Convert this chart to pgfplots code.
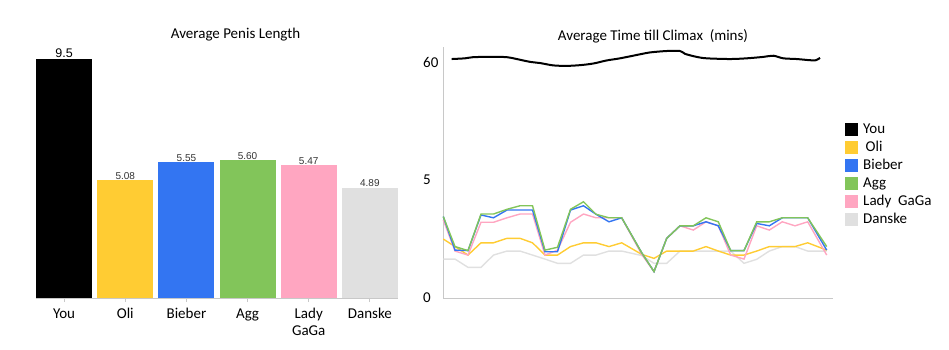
\documentclass[border=0pt]{standalone}
\usepackage{fontspec}
\setmainfont{Carlito}
\newfontfamily\arialfont{Liberation Sans}
\usepackage{pgfplots}
\usepackage{pgfplotstable}
\pgfplotsset{compat=1.18}
\definecolor{cyou}{RGB}{0,0,0}
\definecolor{coli}{RGB}{255,204,51}
\definecolor{cbieber}{RGB}{51,117,242}
\definecolor{cagg}{RGB}{130,197,90}
\definecolor{clady}{RGB}{255,166,193}
\definecolor{cdanske}{RGB}{224,224,224}
\definecolor{axisgray}{RGB}{200,200,200}

\pgfplotstableread{
x     green blue pink yellow grey
443.3 3.45 3.45 3.31 2.50 1.65
455.0 2.18 2.03 1.99 2.18 1.65
468.0 2.01 2.01 1.82 1.82 1.30
481.0 3.56 3.52 3.21 2.34 1.30
493.5 3.56 3.40 3.21 2.34 1.82
507.0 3.76 3.73 3.40 2.53 1.99
520.0 3.91 3.73 3.56 2.53 1.99
532.5 3.91 3.73 3.56 2.34 1.82
545.0 2.03 1.96 1.82 1.82 1.65
557.5 2.15 1.96 2.03 1.82 1.47
570.5 3.76 3.73 3.21 2.18 1.47
583.5 4.08 3.91 3.56 2.34 1.82
596.0 3.55 3.55 3.40 2.34 1.82
609.0 3.40 3.23 3.40 2.18 1.99
621.7 3.40 3.40 3.40 2.34 1.99
641.7 1.92 1.92 1.85 1.85 1.80
654.0 1.12 1.12 1.12 1.68 1.47
666.7 2.53 2.53 2.53 1.99 1.47
680.0 3.06 3.06 3.06 1.99 1.99
693.3 3.06 3.06 2.88 1.99 1.99
706.0 3.40 3.23 3.23 2.18 1.99
718.3 3.23 3.06 3.06 1.99 1.99
730.7 2.01 2.01 1.82 1.82 1.99
744.0 2.01 2.01 1.65 1.82 1.47
756.7 3.23 3.16 3.06 1.99 1.64
769.3 3.23 3.06 2.88 2.18 1.99
782.3 3.40 3.40 3.23 2.18 2.18
795.0 3.40 3.40 3.06 2.18 2.18
807.7 3.40 3.40 3.23 2.34 1.99
826.7 2.18 2.03 1.82 2.03 1.99
}\linedata

\pgfplotstableread{
x     y
451.7 60.13
465.0 60.16
473.3 60.21
490.0 60.22
506.7 60.21
516.7 60.13
530.0 60.01
540.0 59.96
553.3 59.86
566.7 59.84
580.0 59.87
593.3 59.94
606.7 60.07
620.0 60.16
640.0 60.33
650.0 60.41
666.7 60.47
680.0 60.47
685.0 60.35
696.7 60.22
706.7 60.16
730.0 60.13
746.7 60.16
763.3 60.22
773.3 60.27
783.3 60.16
796.7 60.13
810.0 60.08
816.0 60.08
820.0 60.18
}\youdata

\begin{document}
\begin{tikzpicture}[x=1pt,y=1pt]
\path[use as bounding box] (0,0) rectangle (949,349);

% ---------------- left: bar chart ----------------
\begin{axis}[
  at={(36pt,51pt)}, anchor=south west, scale only axis,
  width=362pt, height=251pt,
  xmin=-0.46, xmax=5.46, ymin=2.06, ymax=8.5,
  axis x line*=bottom, axis y line=none,
  x axis line style={-, draw=axisgray, line width=0.8pt},
  xtick={0,1,2,3,4,5},
  xticklabels={You,Oli,Bieber,Agg,{Lady\\GaGa},Danske},
  xticklabel style={align=center, font=\fontsize{15}{16.5}\selectfont, anchor=north, yshift=-3pt},
  xtick style={draw=axisgray, line width=0.8pt},
  major tick length=4pt, tick align=outside,
  point meta=explicit symbolic,
  every axis plot/.append style={ybar, bar width=56pt, bar shift=0pt, draw=none},
  nodes near coords,
  every node near coord/.append style={anchor=south, inner sep=0pt, yshift=0.5pt, font=\arialfont\fontsize{10}{12}\selectfont, text=black!80},
]
\addplot[fill=cyou, every node near coord/.append style={font=\arialfont\fontsize{12.5}{14}\selectfont, text=black}] coordinates {(0,8.2) [9.5]};
\addplot[fill=coli] coordinates {(1,5.08) [5.08]};
\addplot[fill=cbieber] coordinates {(2,5.55) [5.55]};
\addplot[fill=cagg] coordinates {(3,5.60) [5.60]};
\addplot[fill=clady] coordinates {(4,5.47) [5.47]};
\addplot[fill=cdanske] coordinates {(5,4.89) [4.89]};
\end{axis}

% ---------------- right: line chart ----------------
\begin{axis}[
  at={(443pt,51pt)}, anchor=south west, scale only axis,
  width=390pt, height=251pt,
  xmin=443, xmax=833, ymin=0, ymax=10.64,
  axis x line*=bottom, axis y line*=left,
  axis line style={-, draw=axisgray, line width=0.8pt},
  xtick=\empty,
  ytick={0,5,10}, yticklabels={0,5,60},
  ytick style={draw=none},
  yticklabel style={anchor=west, inner sep=0pt, xshift=-20pt, font=\fontsize{15}{18}\selectfont},
  /pgf/number format/assume math mode=true,
  clip=false,
  legend image code/.code={\fill[#1] (0pt,-6pt) rectangle (12pt,6pt);},
  legend cell align=left,
  legend style={draw=none, fill=none, at={(1.031,0.705)}, anchor=north west, inner sep=0pt,
    font=\fontsize{15}{17}\selectfont, row sep=2pt,
    nodes={inner xsep=5.5pt, inner ysep=1pt, text height=11pt, text depth=3pt}},
]
\addlegendimage{cyou}\addlegendentry{You}
\addlegendimage{coli}\addlegendentry{\,Oli}
\addlegendimage{cbieber}\addlegendentry{Bieber}
\addlegendimage{cagg}\addlegendentry{Agg}
\addlegendimage{clady}\addlegendentry{Lady~~GaGa}
\addlegendimage{cdanske}\addlegendentry{Danske}

\addplot[cdanske, line width=1.4pt, forget plot] table[x=x, y=grey] {\linedata};
\addplot[coli, line width=1.4pt, forget plot] table[x=x, y=yellow] {\linedata};
\addplot[clady, line width=1.4pt, forget plot] table[x=x, y=pink] {\linedata};
\addplot[cbieber, line width=1.4pt, forget plot] table[x=x, y=blue] {\linedata};
\addplot[cagg, line width=1.4pt, forget plot] table[x=x, y=green] {\linedata};
\addplot[cyou, line width=2pt, smooth, forget plot, y filter/.expression={y-50}] table[x=x, y=y] {\youdata};
\end{axis}

\node[anchor=base, font=\fontsize{15}{17}\selectfont] at (235.5,310.7) {Average Penis Length};
\node[anchor=base, font=\fontsize{15}{17}\selectfont] at (653,308.3) {Average Time till Climax~~(mins)};
\end{tikzpicture}
\end{document}
